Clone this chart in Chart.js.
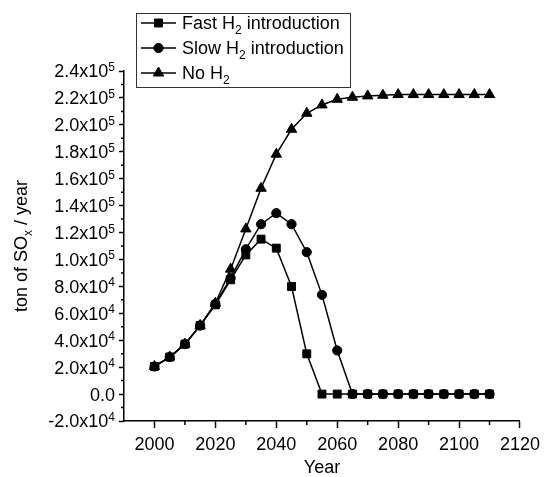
<!DOCTYPE html>
<html>
<head>
<meta charset="utf-8">
<title>SOx emissions</title>
<script src="https://cdn.jsdelivr.net/npm/chart.js@4.4.1/dist/chart.umd.min.js"></script>
<style>
  html, body { margin: 0; padding: 0; background: #fff; }
  canvas { display: block; }
</style>
</head>
<body>
<canvas id="sox-chart" width="546" height="477"></canvas>
<script>
// --- data ---
const years = [2000, 2005, 2010, 2015, 2020, 2025, 2030, 2035, 2040, 2045, 2050, 2055,
               2060, 2065, 2070, 2075, 2080, 2085, 2090, 2095, 2100, 2105, 2110];
const fastH2 = [20500, 27500, 37100, 50900, 66300, 84900, 103400, 115100, 108400, 79900, 29900, 0,
                0, 0, 0, 0, 0, 0, 0, 0, 0, 0, 0];
const slowH2 = [20500, 27500, 37100, 50900, 67000, 86100, 107600, 126200, 134400, 126200, 105400, 73700,
                32400, 0, 0, 0, 0, 0, 0, 0, 0, 0, 0];
const noH2 = [20500, 27500, 37100, 51000, 67500, 92800, 122700, 152900, 178200, 196700, 208600, 214800,
              219000, 220500, 221500, 222000, 222500, 222500, 222500, 222500, 222500, 222500, 222500];

const seriesLabels = ['Fast H₂ introduction', 'Slow H₂ introduction', 'No H₂'];

const xTicks = [2000, 2020, 2040, 2060, 2080, 2100, 2120];
const xMinorTicks = [2010, 2030, 2050, 2070, 2090, 2110];
const yTicks = [-20000, 0, 20000, 40000, 60000, 80000, 100000, 120000, 140000, 160000, 180000, 200000, 220000, 240000];
const yTickLabels = ['-2.0x10⁴', '0.0', '2.0x10⁴', '4.0x10⁴', '6.0x10⁴', '8.0x10⁴', '1.0x10⁵',
                     '1.2x10⁵', '1.4x10⁵', '1.6x10⁵', '1.8x10⁵', '2.0x10⁵', '2.2x10⁵', '2.4x10⁵'];
const yMinorTicks = [-10000, 10000, 30000, 50000, 70000, 90000, 110000, 130000, 150000, 170000, 190000, 210000, 230000];

const xTitle = 'Year';
const yTitle = 'ton of SOₓ / year';

const FONT = '"Liberation Sans", Arial, Helvetica, sans-serif';
const FONT_SIZE = 18;

// --- helpers for super/subscripts drawn on the canvas ---
const SUP = '⁰¹²³⁴⁵⁶⁷⁸⁹';
const SUB = '₀₁₂₃₄₅₆₇₈₉';

const splitRich = (text) => {
    const parts = [];
    for (const ch of text) {
        let kind = 'n';
        let c = ch;
        if (SUP.includes(ch)) { kind = 'sup'; c = String(SUP.indexOf(ch)); }
        else if (SUB.includes(ch)) { kind = 'sub'; c = String(SUB.indexOf(ch)); }
        else if (ch === 'ₓ') { kind = 'sub'; c = 'x'; }
        const last = parts[parts.length - 1];
        if (last && last.kind === kind) last.text += c;
        else parts.push({ kind, text: c });
    }
    return parts;
};

// y is the visual middle of the main text
const drawRich = (ctx, text, x, y, size, align) => {
    const parts = splitRich(text);
    let total = 0;
    parts.forEach(p => {
        p.size = p.kind === 'n' ? size : Math.round(size * 0.68);
        ctx.font = p.size + 'px ' + FONT;
        p.w = ctx.measureText(p.text).width;
        total += p.w;
    });
    let cx = align === 'right' ? x - total : align === 'center' ? x - total / 2 : x;
    const base = y + size * 0.36;
    ctx.textAlign = 'left';
    ctx.textBaseline = 'alphabetic';
    parts.forEach(p => {
        ctx.font = p.size + 'px ' + FONT;
        let by = base;
        if (p.kind === 'sup') by -= size * 0.36;
        if (p.kind === 'sub') by += size * 0.25;
        ctx.fillText(p.text, cx, by);
        cx += p.w;
    });
};

// --- extra drawing: minor ticks, y tick labels, y title, framed legend ---
const decorPlugin = {
    id: 'decor',
    afterDraw(chart) {
        const ctx = chart.ctx;
        const xs = chart.scales.x;
        const ys = chart.scales.y;
        const area = chart.chartArea;
        ctx.save();
        ctx.strokeStyle = '#000';
        ctx.fillStyle = '#000';
        ctx.lineWidth = 1.5;

        // minor ticks
        ctx.beginPath();
        xMinorTicks.forEach(v => {
            const px = xs.getPixelForValue(v);
            ctx.moveTo(px, area.bottom);
            ctx.lineTo(px, area.bottom + 4);
        });
        yMinorTicks.forEach(v => {
            const py = ys.getPixelForValue(v);
            ctx.moveTo(area.left, py);
            ctx.lineTo(area.left - 3, py);
        });
        ctx.stroke();

        // y tick labels
        yTicks.forEach((v, i) => {
            drawRich(ctx, yTickLabels[i], area.left - 9, ys.getPixelForValue(v), FONT_SIZE, 'right');
        });

        // y title
        ctx.save();
        ctx.translate(21, (area.top + area.bottom) / 2);
        ctx.rotate(-Math.PI / 2);
        drawRich(ctx, yTitle, 0, 0, FONT_SIZE, 'center');
        ctx.restore();

        // legend with frame
        const box = { x: 136, y: 13, w: 214, h: 74 };
        ctx.lineWidth = 1;
        ctx.strokeStyle = '#333';
        ctx.strokeRect(box.x + 0.5, box.y + 0.5, box.w, box.h);
        chart.data.datasets.forEach((ds, i) => {
            const rowY = box.y + 10 + i * 25;
            ctx.strokeStyle = '#000';
            ctx.lineWidth = 1.5;
            ctx.beginPath();
            ctx.moveTo(box.x + 5, rowY);
            ctx.lineTo(box.x + 40, rowY);
            ctx.stroke();
            ctx.lineWidth = 1;
            Chart.helpers.drawPoint(ctx, {
                pointStyle: ds.pointStyle,
                radius: ds.pointRadius,
                rotation: 0,
                borderWidth: 1
            }, box.x + 22.5, rowY);
            ctx.fillStyle = '#000';
            drawRich(ctx, ds.label, box.x + 46, rowY, FONT_SIZE, 'left');
        });
        ctx.restore();
    }
};

const toPoints = (values) => years.map((yr, i) => ({ x: yr, y: values[i] }));

const makeSeries = (label, values, style, radius) => ({
    label,
    data: toPoints(values),
    borderColor: '#000',
    backgroundColor: '#000',
    borderWidth: 1.5,
    pointStyle: style,
    pointRadius: radius,
    pointBackgroundColor: '#000',
    pointBorderColor: '#000',
    pointBorderWidth: 1,
    tension: 0,
    fill: false
});

const axisGrid = (len) => ({
    drawOnChartArea: false,
    drawTicks: true,
    tickLength: len,
    color: '#000',
    tickColor: '#000',
    tickWidth: 1.5
});

const ctx = document.getElementById('sox-chart').getContext('2d');
const soxChart = new Chart(ctx, {
    type: 'line',
    data: {
        datasets: [
            makeSeries(seriesLabels[0], fastH2, 'rect', 5.6),
            makeSeries(seriesLabels[1], slowH2, 'circle', 4.6),
            makeSeries(seriesLabels[2], noH2, 'triangle', 6)
        ]
    },
    options: {
        responsive: false,
        animation: false,
        events: [],
        layout: { padding: { left: 12, top: 71, right: 19, bottom: 0 } },
        plugins: {
            legend: { display: false },
            tooltip: { enabled: false }
        },
        scales: {
            x: {
                type: 'linear',
                min: 1990,
                max: 2120,
                afterBuildTicks: (scale) => { scale.ticks = xTicks.map(v => ({ value: v })); },
                afterFit: (scale) => { scale.height = 56; },
                ticks: {
                    autoSkip: false,
                    maxRotation: 0,
                    padding: 6,
                    color: '#000',
                    font: { family: FONT, size: FONT_SIZE },
                    callback: (v) => String(v)
                },
                grid: axisGrid(7),
                border: { display: true, color: '#000', width: 1.5 },
                title: {
                    display: true,
                    text: xTitle,
                    color: '#000',
                    padding: 0,
                    font: { family: FONT, size: FONT_SIZE, lineHeight: 1 }
                }
            },
            y: {
                min: -20000,
                max: 240000,
                afterBuildTicks: (scale) => { scale.ticks = yTicks.map(v => ({ value: v })); },
                afterFit: (scale) => { scale.width = 112; },
                ticks: { display: false },
                grid: axisGrid(5),
                border: { display: true, color: '#000', width: 1.5 }
            }
        }
    },
    plugins: [decorPlugin]
});
</script>
</body>
</html>
